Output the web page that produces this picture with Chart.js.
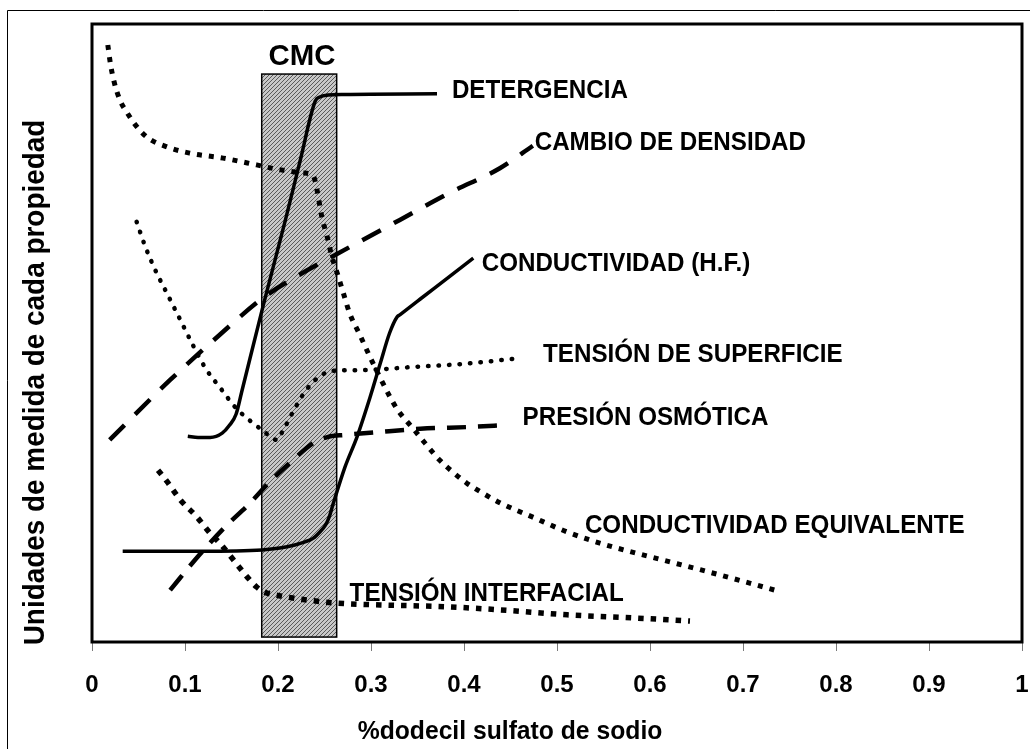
<!DOCTYPE html>
<html><head><meta charset="utf-8">
<script src="https://cdn.jsdelivr.net/npm/chart.js@4.4.1/dist/chart.umd.min.js"></script>
<style>html,body{margin:0;padding:0;background:#fff;}#wrap{width:1030px;height:749px;position:relative;}</style>
</head><body><div id="wrap"><canvas id="c"></canvas></div>
<script>
// ---- data ----
const xTickLabels = ['0','0.1','0.2','0.3','0.4','0.5','0.6','0.7','0.8','0.9','1'];

const detergenciaX = [0.103,0.114,0.127,0.140,0.148,0.155,0.161,0.184,0.208,0.224,0.240,0.245,0.254,0.272,0.371];
const detergenciaY = [33.3,33.1,33.1,33.8,35.1,36.9,40.5,54.4,68.3,78.0,87.5,88.2,88.5,88.6,88.7];

const densidadX = [0.019,0.084,0.138,0.184,0.224,0.277,0.331,0.385,0.439,0.474];
const densidadY = [32.7,42.4,49.8,55.7,59.5,63.9,68.3,72.7,76.7,80.3];

const condHFX = [0.033,0.116,0.183,0.202,0.218,0.229,0.238,0.245,0.251,0.255,0.259,0.272,0.285,0.299,0.310,0.320,0.328,0.331,0.353,0.385,0.410];
const condHFY = [14.7,14.7,14.9,15.2,15.7,16.2,16.8,17.8,18.9,20.2,22.2,28.3,33.2,39.6,45.1,50.0,52.6,52.95,55.5,59.2,62.1];

const superficieX = [0.048,0.057,0.068,0.081,0.095,0.109,0.122,0.138,0.154,0.170,0.183,0.199,0.205,0.216,0.229,0.245,0.261,0.291,0.345,0.399,0.452];
const superficieY = [68.0,64.1,60.2,56.3,52.1,47.9,44.3,41.1,38.0,35.8,34.3,32.7,34.1,37.2,40.5,43.0,43.9,44.0,44.5,45.0,45.8];

const osmoticaX = [0.084,0.116,0.143,0.170,0.191,0.213,0.238,0.254,0.272,0.310,0.353,0.407,0.445];
const osmoticaY = [8.4,14.2,18.6,22.5,25.9,29.0,32.2,33.2,33.5,34.0,34.5,34.8,35.1];

const condEqX = [0.017,0.020,0.024,0.030,0.038,0.046,0.059,0.081,0.105,0.141,0.177,0.199,0.227,0.238,0.242,0.247,0.253,0.258,0.263,0.270,0.277,0.288,0.299,0.310,0.328,0.345,0.358,0.374,0.388,0.403,0.420,0.439,0.474,0.511,0.546,0.600,0.654,0.708,0.734];
const condEqY = [96.6,93.4,90.5,87.7,85.6,83.8,81.7,80.1,79.1,78.3,77.2,76.5,75.9,75.4,73.1,68.9,65.5,62.3,60.0,56.6,53.2,49.7,46.1,42.7,37.7,34.6,32.2,29.4,27.5,25.7,24.1,22.5,20.2,17.8,16.0,13.8,11.7,9.5,8.4];

const interfacialX = [0.071,0.081,0.095,0.113,0.127,0.138,0.152,0.167,0.177,0.185,0.205,0.231,0.263,0.310,0.382,0.439,0.511,0.582,0.643];
const interfacialY = [27.8,25.9,23.0,20.2,17.6,15.9,13.3,10.5,8.9,8.1,7.4,6.8,6.3,6.0,5.7,5.2,4.4,3.9,3.4];

const cmcX = [0.1825, 0.2631];
const cmcY = [0.8, 91.9];

const curveNames = ['DETERGENCIA','CAMBIO DE DENSIDAD','CONDUCTIVIDAD (H.F.)','TENSIÓN DE SUPERFICIE','PRESIÓN OSMÓTICA','CONDUCTIVIDAD EQUIVALENTE','TENSIÓN INTERFACIAL'];
// label anchor (left edge, vertical centre) in data units
const labelAtX = [0.387,0.476,0.419,0.485,0.463,0.530,0.277];
const labelAtY = [89.6,81.1,61.5,46.8,36.6,19.1,8.1];
const cmcText = 'CMC';
const cmcTextAt = [0.2258, 95.1];
const xTitle = '%dodecil sulfato de sodio';
const yTitle = 'Unidades de medida de cada propiedad';

// ---- helpers ----
const FONT = '"Liberation Sans", Arial, Helvetica, sans-serif';
Chart.defaults.font.family = FONT;
const pts = (xs, ys) => xs.map((x, i) => ({x, y: ys[i]}));

function hatch() {
  const c = document.createElement('canvas'); c.width = 4; c.height = 4;
  const g = c.getContext('2d');
  g.fillStyle = '#c8c8c8'; g.fillRect(0, 0, 4, 4);
  g.fillStyle = '#5a5a5a';
  for (let i = 0; i < 4; i++) g.fillRect(i, 3 - i, 1, 1);
  return g.createPattern(c, 'repeat');
}

function txt(ctx, text, x, y, size, sx, align, rot) {
  ctx.save();
  ctx.font = 'bold ' + size + 'px ' + FONT;
  ctx.translate(x, y);
  if (rot) ctx.rotate(rot);
  ctx.scale(sx, 1);
  ctx.textAlign = align; ctx.textBaseline = 'alphabetic';
  ctx.fillStyle = '#000';
  ctx.fillText(text, 0, size * 0.358);
  ctx.restore();
}

const decor = {
  id: 'decor',
  beforeDraw(chart) {
    const ctx = chart.ctx;
    ctx.save();
    ctx.fillStyle = '#fff'; ctx.fillRect(0, 0, chart.width, chart.height);
    ctx.strokeStyle = '#000'; ctx.lineWidth = 1;
    ctx.beginPath(); ctx.moveTo(7.5, chart.height + 2); ctx.lineTo(7.5, 10.5); ctx.lineTo(chart.width + 2, 10.5); ctx.stroke();
    ctx.restore();
  },
  beforeDatasetsDraw(chart) {
    const ctx = chart.ctx, xs = chart.scales.x, ys = chart.scales.y;
    const x0 = xs.getPixelForValue(cmcX[0]), x1 = xs.getPixelForValue(cmcX[1]);
    const y0 = ys.getPixelForValue(cmcY[1]), y1 = ys.getPixelForValue(cmcY[0]);
    ctx.save();
    ctx.fillStyle = hatch();
    ctx.fillRect(x0, y0, x1 - x0, y1 - y0);
    ctx.strokeStyle = '#000'; ctx.lineWidth = 1.5;
    ctx.strokeRect(x0, y0, x1 - x0, y1 - y0);
    ctx.restore();
  },
  afterDatasetsDraw(chart) {
    const ctx = chart.ctx, a = chart.chartArea;
    ctx.save();
    ctx.strokeStyle = '#000'; ctx.lineWidth = 3;
    ctx.strokeRect(a.left, a.top, a.right - a.left, a.bottom - a.top);
    ctx.restore();
  },
  afterDraw(chart) {
    const ctx = chart.ctx, xs = chart.scales.x, ys = chart.scales.y;
    curveNames.forEach((n, i) => {
      txt(ctx, n, xs.getPixelForValue(labelAtX[i]), ys.getPixelForValue(labelAtY[i]), 26, 0.93, 'left');
    });
    txt(ctx, cmcText, xs.getPixelForValue(cmcTextAt[0]), ys.getPixelForValue(cmcTextAt[1]), 30, 0.98, 'center');
    txt(ctx, xTitle, 510, 730, 26, 0.95, 'center');
    txt(ctx, yTitle, 33, 382.5, 30, 0.93, 'center', -Math.PI / 2);
  }
};

const base = {borderColor: '#000', pointRadius: 0, fill: false, cubicInterpolationMode: 'monotone', borderCapStyle: 'butt'};

new Chart(document.getElementById('c'), {
  type: 'line',
  data: {
    datasets: [
      Object.assign({}, base, {label: curveNames[0], data: pts(detergenciaX, detergenciaY), borderWidth: 3.5}),
      Object.assign({}, base, {label: curveNames[1], data: pts(densidadX, densidadY), borderWidth: 4.5, borderDash: [21, 15]}),
      Object.assign({}, base, {label: curveNames[2], data: pts(condHFX, condHFY), borderWidth: 3.5}),
      Object.assign({}, base, {label: curveNames[3], data: pts(superficieX, superficieY), borderWidth: 4.5, borderDash: [0.5, 10], borderCapStyle: 'round'}),
      Object.assign({}, base, {label: curveNames[4], data: pts(osmoticaX, osmoticaY), borderWidth: 4.5, borderDash: [19, 12]}),
      Object.assign({}, base, {label: curveNames[5], data: pts(condEqX, condEqY), borderWidth: 5, borderDash: [5, 7]}),
      Object.assign({}, base, {label: curveNames[6], data: pts(interfacialX, interfacialY), borderWidth: 5.5, borderDash: [5.5, 7]})
    ]
  },
  options: {
    responsive: true, maintainAspectRatio: false, animation: false,
    layout: {padding: {left: 92, top: 24, right: 8, bottom: 0}},
    plugins: {legend: {display: false}, tooltip: {enabled: false}},
    scales: {
      x: {
        type: 'linear', min: 0, max: 1, position: 'bottom',
        ticks: {stepSize: 0.1, padding: 20, color: '#000', font: {size: 24, weight: 'bold'}, maxRotation: 0, autoSkip: false,
                callback: (v, i) => xTickLabels[i]},
        grid: {drawOnChartArea: false, drawTicks: true, tickLength: 9, color: '#7a7a7a', lineWidth: 1},
        border: {display: false},
        afterFit(s) { s.height = 107; s.paddingLeft = 0; s.paddingRight = 0; }
      },
      y: {type: 'linear', min: 0, max: 100, display: false}
    }
  },
  plugins: [decor]
});
</script>
</body></html>
